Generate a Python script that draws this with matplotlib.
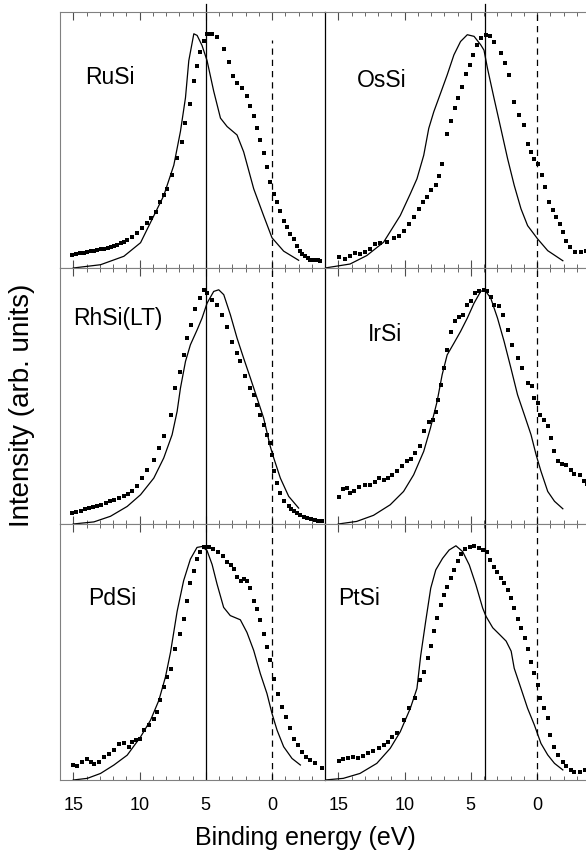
import numpy as np
import matplotlib.pyplot as plt
from matplotlib.ticker import MultipleLocator

plt.rcParams['font.family'] = ['Liberation Sans', 'DejaVu Sans']

# ---- dati (energia di legame in eV, intensita' normalizzata) ----
rusi_calc_x = [15.0, 12.94, 11.18, 9.92, 8.92, 8.17, 7.41, 6.91, 6.53, 6.28, 5.90, 5.65, 5.28, 4.90,
               4.40, 3.89, 3.39, 2.64, 2.14, 1.38, 0.63, 0.0, -0.88, -2.01]
rusi_calc_y = [0.0, 0.014, 0.050, 0.108, 0.223, 0.309, 0.439, 0.583, 0.727, 0.885, 1.0, 0.993, 0.95, 0.885,
               0.755, 0.640, 0.604, 0.568, 0.496, 0.338, 0.223, 0.129, 0.072, 0.033]
rusi_exp_x = [15.08, 14.8, 14.5, 14.2, 13.94, 13.67, 13.4, 13.17, 12.94, 12.67, 12.4, 12.17, 11.93, 11.67,
              11.4, 11.17, 10.93, 10.55, 10.18, 9.8, 9.42, 9.1, 8.79,
              8.42, 8.15, 7.91, 7.54, 7.16, 6.78, 6.53, 6.16, 5.90, 5.65, 5.40, 5.15, 4.90, 4.70, 4.52,
              4.15, 3.64, 3.27, 2.94, 2.64, 2.26, 1.88, 1.63, 1.38, 1.13, 0.88, 0.63, 0.38, 0.13, -0.13,
              -0.38, -0.63, -0.88, -1.13, -1.38, -1.63, -1.88, -2.14, -2.3, -2.51, -2.7, -2.89, -3.1,
              -3.25, -3.45, -3.64]
rusi_exp_y = [0.055, 0.058, 0.062, 0.065, 0.068, 0.071, 0.074, 0.076, 0.079, 0.082, 0.086, 0.09, 0.094,
              0.099, 0.105, 0.112, 0.119, 0.134, 0.151, 0.172, 0.194,
              0.215, 0.237, 0.281, 0.31, 0.338, 0.396, 0.468, 0.540, 0.62, 0.700, 0.799, 0.863, 0.921,
              0.971, 1.0, 1.0, 1.0, 0.986, 0.935, 0.878, 0.820, 0.791, 0.770, 0.734, 0.691, 0.647, 0.597,
              0.547, 0.489, 0.432, 0.367, 0.317, 0.281, 0.245, 0.201, 0.173, 0.144, 0.122, 0.094, 0.072,
              0.06, 0.050, 0.042, 0.036, 0.034, 0.033, 0.033, 0.032]

ossi_calc_x = [16.0, 14.11, 12.85, 11.58, 10.32, 9.56, 9.06, 8.55, 8.17, 7.79, 7.28, 6.78, 6.27, 5.77, 5.26,
               4.75, 4.25, 4.0, 3.74, 3.24, 2.73, 2.22, 1.72, 1.21, 0.71, -0.05, -0.81, -1.95]
ossi_calc_y = [0.0, 0.017, 0.053, 0.11, 0.224, 0.317, 0.381, 0.481, 0.596, 0.667, 0.746, 0.824, 0.91, 0.967,
               0.996, 0.989, 0.953, 0.93, 0.853, 0.724, 0.596, 0.467, 0.353, 0.253, 0.181, 0.124, 0.074, 0.031]
ossi_exp_x = [14.92, 14.49, 14.11, 13.74, 13.36, 12.98, 12.60, 12.22, 11.84, 11.33, 10.83, 10.45, 10.07,
              9.69, 9.31, 8.93, 8.60, 8.30, 7.97, 7.66, 7.41, 7.16, 6.78, 6.47, 6.22, 5.97, 5.64, 5.34,
              5.08, 4.81, 4.50, 4.20, 3.87, 3.54, 3.24, 2.73, 2.43, 2.10, 1.72, 1.34, 1.01, 0.71, 0.45,
              0.20, -0.10, -0.36, -0.63, -0.89, -1.19, -1.44, -1.70, -1.95, -2.20, -2.46, -2.84, -3.34, -3.72]
ossi_exp_y = [0.046, 0.039, 0.053, 0.064, 0.060, 0.067, 0.081, 0.103, 0.107, 0.113, 0.127, 0.136, 0.156,
              0.189, 0.217, 0.253, 0.281, 0.303, 0.331, 0.356, 0.393, 0.446, 0.574, 0.627, 0.681, 0.724,
              0.774, 0.827, 0.867, 0.910, 0.953, 0.981, 0.996, 0.991, 0.967, 0.917, 0.874, 0.824, 0.710,
              0.653, 0.610, 0.53, 0.496, 0.467, 0.446, 0.396, 0.346, 0.281, 0.246, 0.217, 0.189, 0.153,
              0.117, 0.089, 0.067, 0.070, 0.074]

rhsi_calc_x = [15.0, 13.44, 12.19, 10.93, 9.92, 8.92, 8.17, 7.54, 7.16, 6.91, 6.53, 6.16, 5.65, 5.28, 4.90,
               4.40, 4.02, 3.64, 3.14, 2.64, 2.14, 1.63, 1.13, 0.63, 0.13, -0.13, -0.63, -1.26, -2.01]
rhsi_calc_y = [0.0, 0.009, 0.033, 0.075, 0.125, 0.196, 0.282, 0.381, 0.481, 0.58, 0.694, 0.765, 0.829,
               0.879, 0.943, 0.993, 1.0, 0.979, 0.893, 0.794, 0.708, 0.623, 0.538, 0.452, 0.331, 0.282,
               0.196, 0.118, 0.068]
rhsi_exp_x = [15.08, 14.77, 14.45, 14.13, 13.82, 13.5, 13.19, 12.87, 12.56, 12.25, 11.93, 11.55, 11.18,
              10.87, 10.55, 10.18, 9.80, 9.42, 8.92, 8.54, 8.17,
              7.66, 7.29, 6.91, 6.66, 6.41, 6.11, 5.78, 5.45, 5.15, 4.90, 4.52, 4.15, 3.77, 3.39, 3.02,
              2.64, 2.39, 2.01, 1.68, 1.38, 1.13, 0.88, 0.63, 0.38, 0.13, 0.0, -0.18, -0.38, -0.63, -0.93,
              -1.26, -1.45, -1.63, -1.9, -2.14, -2.4, -2.64, -2.95, -3.27, -3.5, -3.77]
rhsi_exp_y = [0.047, 0.052, 0.057, 0.062, 0.068, 0.071, 0.075, 0.082, 0.09, 0.097, 0.104, 0.111, 0.118,
              0.128, 0.139, 0.161, 0.196, 0.232, 0.274, 0.324, 0.374,
              0.466, 0.58, 0.651, 0.722, 0.793, 0.85, 0.92, 0.964, 1.0, 0.986, 0.957, 0.936, 0.893,
              0.843, 0.779, 0.73, 0.694, 0.63, 0.58, 0.552, 0.509, 0.467, 0.424, 0.38, 0.346, 0.296, 0.225,
              0.175, 0.132, 0.097, 0.075, 0.066, 0.057, 0.048, 0.040, 0.032, 0.026, 0.022, 0.018, 0.014,
              0.011]

irsi_calc_x = [15.0, 13.61, 12.34, 11.08, 10.07, 9.31, 8.55, 8.04, 7.54, 7.16, 6.78, 6.27, 5.77, 5.26, 4.75,
               4.25, 3.95, 3.49, 2.98, 2.48, 1.97, 1.47, 0.96, 0.45, 0.07, -0.30, -0.81, -1.32, -1.95]
irsi_calc_y = [0.0, 0.011, 0.037, 0.082, 0.139, 0.21, 0.31, 0.41, 0.523, 0.637, 0.722, 0.772, 0.822, 0.879,
               0.943, 0.993, 1.0, 0.964, 0.879, 0.779, 0.666, 0.552, 0.467, 0.381, 0.296, 0.225, 0.139,
               0.097, 0.065]
irsi_exp_x = [14.92, 14.67, 14.37, 14.11, 13.81, 13.41, 12.98, 12.60, 12.22, 11.91, 11.58, 11.28, 10.95,
              10.57, 10.19, 9.81, 9.49, 9.18, 8.85, 8.50, 8.17, 7.84, 7.66, 7.46, 7.23, 7.03, 6.78, 6.47,
              6.22, 5.89, 5.59, 5.26, 4.96, 4.70, 4.38, 4.0, 3.74, 3.49, 3.24, 2.86, 2.60, 2.22, 1.85, 1.47,
              1.14, 0.71, 0.40, 0.20, -0.05, -0.25, -0.56, -0.81, -1.06, -1.32, -1.57, -1.90, -2.20, -2.53,
              -2.83, -3.21, -3.54, -3.77]
irsi_exp_y = [0.114, 0.151, 0.154, 0.132, 0.139, 0.156, 0.165, 0.165, 0.179, 0.196, 0.189, 0.196, 0.21,
              0.225, 0.246, 0.27, 0.279, 0.303, 0.331, 0.395, 0.435, 0.445, 0.48, 0.53, 0.595, 0.666, 0.744,
              0.819, 0.865, 0.882, 0.893, 0.936, 0.953, 0.986, 0.996, 1.0, 0.993, 0.971, 0.936, 0.929, 0.893,
              0.829, 0.765, 0.708, 0.666, 0.602, 0.588, 0.538, 0.516, 0.466, 0.445, 0.417, 0.367, 0.31,
              0.267, 0.256, 0.25, 0.232, 0.213, 0.21, 0.182, 0.171]

pdsi_calc_x = [15.0, 13.94, 12.94, 11.93, 10.93, 9.92, 9.17, 8.54, 8.04, 7.66, 7.16, 6.67, 6.16, 5.66, 5.28,
               4.90, 4.52, 4.15, 3.65, 3.15, 2.39, 1.89, 1.38, 0.88, 0.38, 0.0, -0.38, -0.88, -1.51, -2.14]
pdsi_calc_y = [0.0, 0.007, 0.028, 0.064, 0.106, 0.184, 0.255, 0.34, 0.44, 0.545, 0.72, 0.851, 0.943, 0.993,
               0.997, 0.979, 0.92, 0.837, 0.737, 0.702, 0.684, 0.63, 0.553, 0.454, 0.369, 0.284, 0.213,
               0.142, 0.092, 0.064]
pdsi_exp_x = [15.0, 14.70, 14.32, 13.99, 13.69, 13.44, 13.07, 12.69, 12.31, 11.93, 11.56, 11.18, 10.80,
              10.55, 10.30, 9.97, 9.67, 9.30, 8.92, 8.67, 8.42, 8.17, 7.91, 7.66, 7.29, 6.91, 6.66, 6.41,
              6.16, 5.91, 5.66, 5.41, 5.11, 4.78, 4.45, 4.10, 3.70, 3.40, 3.09, 2.90, 2.64, 2.34, 2.14,
              1.89, 1.64, 1.39, 1.13, 0.89, 0.64, 0.38, 0.13, -0.13, -0.45, -0.75, -1.08, -1.38, -1.63,
              -1.96, -2.26, -2.59, -2.89, -3.27, -3.77]
pdsi_exp_y = [0.064, 0.061, 0.078, 0.088, 0.078, 0.068, 0.078, 0.099, 0.113, 0.128, 0.153, 0.156, 0.142,
              0.163, 0.170, 0.177, 0.213, 0.234, 0.262, 0.291, 0.340, 0.397, 0.44, 0.475, 0.560, 0.624,
              0.688, 0.766, 0.84, 0.894, 0.943, 0.972, 0.996, 0.996, 0.986, 0.972, 0.957, 0.929, 0.919,
              0.901, 0.868, 0.851, 0.858, 0.851, 0.82, 0.766, 0.731, 0.681, 0.624, 0.567, 0.511, 0.433,
              0.369, 0.312, 0.270, 0.220, 0.177, 0.149, 0.121, 0.099, 0.085, 0.071, 0.050]

ptsi_calc_x = [16.0, 14.62, 13.36, 12.09, 11.08, 10.32, 9.56, 9.06, 8.78, 8.40, 8.02, 7.64, 7.13, 6.63,
               6.12, 5.61, 5.11, 4.61, 4.10, 3.85, 3.34, 2.84, 2.33, 1.95, 1.72, 1.21, 0.71, 0.20, -0.30,
               -0.81, -1.32, -1.95]
ptsi_calc_y = [0.0, 0.007, 0.028, 0.071, 0.135, 0.206, 0.306, 0.391, 0.53, 0.678, 0.819, 0.897, 0.946,
               0.982, 1.0, 0.975, 0.918, 0.833, 0.734, 0.699, 0.65, 0.622, 0.593, 0.55, 0.477, 0.391,
               0.306, 0.235, 0.156, 0.107, 0.071, 0.043]
ptsi_exp_x = [14.92, 14.62, 14.24, 13.86, 13.48, 13.10, 12.72, 12.34, 11.96, 11.58, 11.28, 10.95, 10.57,
              10.07, 9.69, 9.18, 8.80, 8.55, 8.25, 8.02, 7.77, 7.51, 7.26, 7.01, 6.76, 6.50, 6.25, 6.0,
              5.74, 5.42, 5.06, 4.73, 4.40, 4.10, 3.79, 3.54, 3.26, 3.01, 2.71, 2.46, 2.20, 1.95, 1.70,
              1.44, 1.19, 0.94, 0.68, 0.45, 0.20, -0.05, -0.25, -0.51, -0.81, -1.01, -1.32, -1.62, -1.95,
              -2.20, -2.53, -2.83, -3.21, -3.59]
ptsi_exp_y = [0.083, 0.090, 0.095, 0.100, 0.095, 0.104, 0.114, 0.124, 0.135, 0.149, 0.164, 0.185, 0.199,
              0.256, 0.306, 0.348, 0.427, 0.462, 0.519, 0.572, 0.636, 0.692, 0.749, 0.791, 0.826, 0.861,
              0.897, 0.935, 0.963, 0.986, 0.996, 0.999, 0.989, 0.984, 0.972, 0.939, 0.911, 0.89, 0.861,
              0.840, 0.812, 0.777, 0.734, 0.689, 0.65, 0.607, 0.558, 0.505, 0.455, 0.405, 0.348, 0.306,
              0.263, 0.192, 0.142, 0.107, 0.078, 0.060, 0.043, 0.033, 0.033, 0.043]

nomi = ["RuSi", "OsSi", "RhSi(LT)", "IrSi", "PdSi", "PtSi"]
calc = [(rusi_calc_x, rusi_calc_y), (ossi_calc_x, ossi_calc_y), (rhsi_calc_x, rhsi_calc_y),
        (irsi_calc_x, irsi_calc_y), (pdsi_calc_x, pdsi_calc_y), (ptsi_calc_x, ptsi_calc_y)]
esp = [(rusi_exp_x, rusi_exp_y), (ossi_exp_x, ossi_exp_y), (rhsi_exp_x, rhsi_exp_y),
       (irsi_exp_x, irsi_exp_y), (pdsi_exp_x, pdsi_exp_y), (ptsi_exp_x, ptsi_exp_y)]
pos_nomi = [(14.1, 0.815), (13.56, 0.80), (15.0, 0.877), (12.8, 0.81), (13.9, 0.774), (15.0, 0.774)]
linea_ref = [4.95, 3.94]  # linea verticale continua: colonna sinistra / destra

# ---- figura ----
fig = plt.figure(figsize=(5.86, 8.57), dpi=100)
W, H = 586.0, 857.0
col_left = [60 / W, 325 / W]
col_w = 265 / W
row_h = 256 / H
row_bottom = [1 - 268 / H, 1 - 524 / H, 1 - 780 / H]

for i in range(6):
    r, c = divmod(i, 2)
    ax = fig.add_axes([col_left[c], row_bottom[r], col_w, row_h])
    ax.set_xlim(16, -4)
    ax.set_ylim(0, 1.093)

    ax.plot(calc[i][0], calc[i][1], color='black', lw=0.9)
    ax.plot(esp[i][0], esp[i][1], 's', color='black', markersize=2.9, markeredgewidth=0)

    ax.axvline(linea_ref[c], color='black', lw=0.9)
    if i == 0:
        ax.axvline(0, ymin=0, ymax=0.89, color='black', lw=0.9, ls=(0, (5, 4)))
    else:
        ax.axvline(0, color='black', lw=0.9, ls=(0, (5, 4)))
    if r == 0:
        ax.plot([linea_ref[c], linea_ref[c]], [1.0, 1.03], color='black', lw=0.9,
                transform=ax.get_xaxis_transform(), clip_on=False)

    ax.text(pos_nomi[i][0], pos_nomi[i][1], nomi[i], fontsize=16.5, ha='left', va='center')

    ax.xaxis.set_major_locator(MultipleLocator(5))
    ax.xaxis.set_minor_locator(MultipleLocator(1))
    ax.tick_params(axis='x', which='major', direction='in', top=True, length=6, width=0.8,
                   color='0.3', labelsize=13, pad=12)
    ax.tick_params(axis='x', which='minor', direction='in', top=True, length=3, width=0.6, color='0.3')
    ax.set_yticks([])
    if r < 2:
        ax.tick_params(axis='x', labelbottom=False)
    else:
        ax.set_xticks([15, 10, 5, 0])

    for s in ax.spines.values():
        s.set_color('0.5')
        s.set_linewidth(0.8)
    if c == 1:
        ax.spines['left'].set_color('black')
        ax.spines['left'].set_linewidth(0.9)
        ax.spines['right'].set_visible(False)
    else:
        ax.spines['right'].set_visible(False)

fig.text(305 / W, 1 - 838 / H, "Binding energy (eV)", fontsize=18, ha='center', va='center')
fig.text(22 / W, 1 - 405 / H, "Intensity (arb. units)", fontsize=20, ha='center', va='center',
         rotation=90)

plt.savefig("out.png", dpi=100)
